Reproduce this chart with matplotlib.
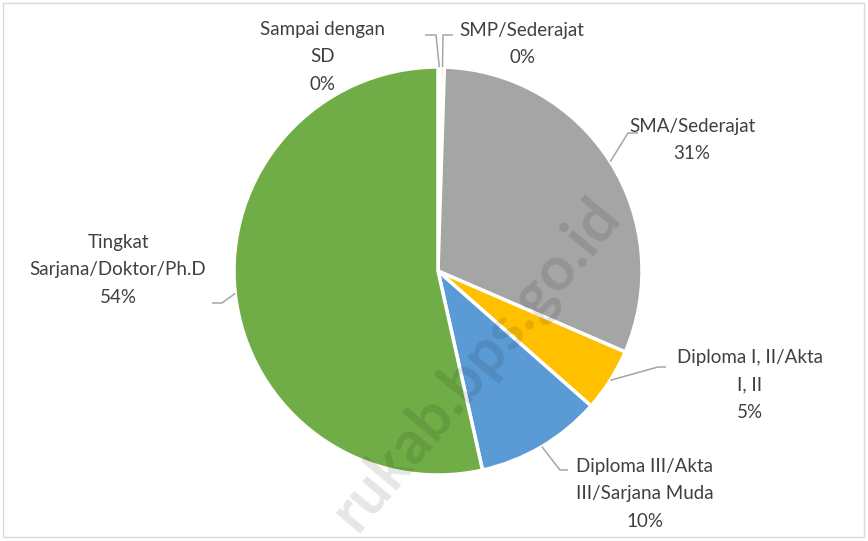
import numpy as np
import matplotlib.pyplot as plt
from matplotlib.patches import Rectangle

plt.rcParams['font.family'] = ['Lato', 'DejaVu Sans']

categories = ["Sampai dengan\nSD", "SMP/Sederajat", "SMA/Sederajat",
              "Diploma I, II/Akta\nI, II", "Diploma III/Akta\nIII/Sarjana Muda",
              "Tingkat\nSarjana/Doktor/Ph.D"]
shares = [0.2, 0.3, 31.0, 5.0, 10.0, 53.5]
pct_labels = ["0%", "0%", "31%", "5%", "10%", "54%"]
colors = ["#5B9BD5", "#ED7D31", "#A5A5A5", "#FFC000", "#5B9BD5", "#70AD47"]

W, H = 868, 541
fig = plt.figure(figsize=(W / 100, H / 100), dpi=100)
ax = fig.add_axes([0, 0, 1, 1])


def Y(y):
    # image rows -> axes coords
    return H - y


cx, cy, r = 438, Y(271), 204
wedges, _ = ax.pie(shares, colors=colors, startangle=90, counterclock=False,
                   center=(cx, cy), radius=r, frame=True,
                   wedgeprops=dict(edgecolor="white", linewidth=2.5))
ax.set_xlim(0, W)
ax.set_ylim(0, H)
ax.set_aspect('equal')
ax.axis('off')

# label placement: (text x, text y, elbow x, elbow y, line end x)
layout = [
    (323, 57, 436, 35, 425),
    (522, 44, 443, 35, 453),
    (692, 140, 628, 133, 638),
    (750, 385, 658, 367, 666),
    (645, 494, 560, 470, 568),
    (118, 270, 222, 303, 212),
]
txt = "#404040"
for w, cat, pct, (tx, ty, ex, ey, lx) in zip(wedges, categories, pct_labels, layout):
    mid = np.deg2rad((w.theta1 + w.theta2) / 2)
    px, py = cx + r * np.cos(mid), cy + r * np.sin(mid)
    ax.plot([px, ex, lx], [py, Y(ey), Y(ey)], color="#A6A6A6", lw=1.1,
            solid_capstyle="butt", zorder=3)
    ax.text(tx, Y(ty), f"{cat}\n{pct}", ha="center", va="center", color=txt,
            fontsize=13.5, linespacing=1.75)

# watermark
ax.text(476, Y(364), "rukab.bps.go.id", rotation=50, ha="center", va="center",
        fontsize=44, fontweight="bold", color="black", alpha=0.1, zorder=5)

ax.add_patch(Rectangle((3, 4), W - 7, H - 7, fill=False, edgecolor="#D9D9D9", lw=1))

fig.savefig("out.png", dpi=100)
